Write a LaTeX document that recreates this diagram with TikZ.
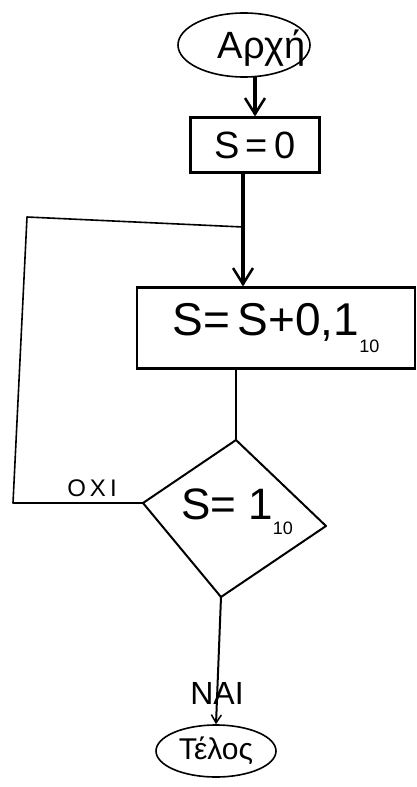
\documentclass[tikz,border=0pt]{standalone}
\usepackage{fontspec}
\setmainfont{Liberation Sans}
\usetikzlibrary{arrows.meta,shapes.geometric}
\newcommand{\fs}[1]{\fontsize{#1}{#1}\selectfont}
\newcommand{\subten}{\raisebox{-0.35em}{\fs{18}10}}
\tikzset{
  thinline/.style={line width=1.6pt, line join=round, line cap=round},
  thickline/.style={line width=4pt, line cap=round},
  boxnode/.style={draw, line width=2.2pt, inner sep=0pt, minimum width=#1},
  ellnode/.style={draw, ellipse, line width=1.6pt, inner sep=0pt},
  barb/.style={-{Straight Barb[length=16pt,width=20pt,line width=2.5pt]}},
  smallbarb/.style={-{Straight Barb[length=8pt,width=10pt,line width=1.5pt]}}
}
\begin{document}
\begin{tikzpicture}[x=1pt,y=-1pt]
\useasboundingbox[fill=white] (0,0) rectangle (417,787);
% nodes
\node[ellnode, minimum width=132, minimum height=64] (start) at (244,45) {};
\node (starttext) at (262,48) {\fs{38}Αρχή};
\node[boxnode=129, minimum height=55] (init) at (255,145) {\fs{38}S\,=\,0};
\node[boxnode=278, minimum height=81] (loop) at (276,328) {\fs{46}S=\,S+0,1\subten};
\coordinate (dt) at (236,440);
\coordinate (dr) at (326,526);
\coordinate (db) at (221,597);
\coordinate (dl) at (143,503);
\draw[thinline, line width=2pt] (dt) -- (dr) -- (db) -- (dl) -- cycle;
\node (cond) at (237,512) {\fs{44}S=\;1\subten};
\node[ellnode, minimum width=120, minimum height=52] (end) at (216,751) {\fs{30}Τέλος};
% loop-back coordinates
\coordinate (lb) at (13,503);
\coordinate (lt) at (27,217);
\coordinate (j) at (243,227);
% connectors
\draw[thickline, barb] (init.north |- start.south) -- (init.north);
\draw[thickline] (init.south -| j) -- (j);
\draw[thickline, barb] (j) -- (loop.north -| j);
\draw[thinline] (dl) -- (lb) -- (lt) -- (j);
\draw[thinline] (dt |- loop.south) -- (dt);
\draw[thinline, line width=2pt, smallbarb] (db) -- (end.north);
% labels
\node (no) at (92,488) {\fs{24}Ο\,Χ\,Ι};
\node (yes) at (217,693) {\fs{32}ΝΑΙ};
\end{tikzpicture}
\end{document}
